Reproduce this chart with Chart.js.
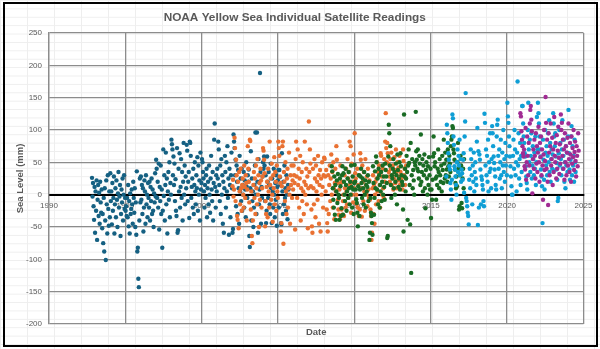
<!DOCTYPE html>
<html><head><meta charset="utf-8">
<script src="https://cdn.jsdelivr.net/npm/chart.js@4/dist/chart.umd.min.js"></script>
<style>
html,body{margin:0;padding:0;}
body{width:600px;height:349px;overflow:hidden;background:#fff;}
#wrap{position:relative;width:600px;height:349px;
 background-image:linear-gradient(to right,#eeeeee 1px,transparent 1px),linear-gradient(to bottom,#eeeeee 1px,transparent 1px);
 background-size:27px 8.4px;}
#frame{position:absolute;left:3px;top:2px;width:595px;height:345px;box-sizing:border-box;border:2.5px solid #000;pointer-events:none;}
canvas{position:absolute;left:0;top:0;}
</style></head><body>
<div id="wrap"><canvas id="c" width="600" height="349"></canvas><div id="frame"></div></div>
<script>
// Tick values
const yearTicks = [1990,1995,2000,2005,2010,2015,2020,2025];
const levelTicks = [-200,-150,-100,-50,0,50,100,150,200,250];
const seriesNames = ['TOPEX/Poseidon','Jason-1','Jason-2','Jason-3','Sentinel-6 MF'];

// Each row: [fromYear, toYear, readings (mm) spread over that interval]
const topex = [
 [1992.8,1993.5,[26,-3,18,-18,-39,12,-59,5,-25,22,-70,-8,15,-33,3,-45,20,-12,-28,8,-52]],
 [1993.5,1994.0,[-30,-75,-5,-88,10,-40,-101,22,-15,-60,30,-22,-48,5,-35]],
 [1994.0,1995.0,[33,-10,5,-46,18,-25,-5,28,-60,-15,10,-35,22,-8,-50,2,35,-20,-3,15,-64,-30,8,-12,25,-40,0,30,-22,-5]],
 [1995.0,1996.0,[-25,-18,-33,-5,-35,15,-49,-10,-60,2,-30,-22,8,-15,-45,20,-5,-28,10,-50,-12,-62,36,-88,-82,-130,-143,-40,25,-12]],
 [1996.0,1997.0,[28,-8,15,-30,10,-57,-20,22,5,-45,30,-15,0,-35,18,-5,-20,20,-40,12,-10,25,-30,8,-25,-50,2,-12,33,-3]],
 [1997.0,1998.0,[54,40,-5,20,-20,48,-54,12,-10,45,-30,8,-82,-25,70,-2,30,-40,15,65,-15,25,-60,5,35,-8,50,-35,18,0]],
 [1998.0,1999.0,[85,78,70,30,59,15,48,-10,24,-25,-33,72,-59,-55,40,5,64,-20,12,55,-5,35,-40,20,80,0,45,-15,28,10]],
 [1999.0,2000.0,[77,68,-10,20,35,-36,82,80,60,-5,12,25,-20,40,-30,15,50,5,-15,30,10,58,-25,45,0,22,-40,65,8,18]],
 [2000.0,2001.0,[55,50,35,25,5,-20,15,-5,30,40,-35,10,20,-15,45,0,-28,25,60,8,-10,35,-40,18,85,110,12,-20,30,5]],
 [2001.0,2002.0,[40,25,82,70,15,-10,45,-30,55,0,30,-45,20,-59,10,60,35,-20,50,5,75,-5,25,-62,40,15,-35,30,65,10]],
 [2002.0,2003.0,[-59,-53,93,82,72,30,54,-18,45,20,-30,38,10,-45,60,5,25,-10,40,-25,15,0,35,-20,22,8,-35,50,12,-5]],
 [2003.0,2004.0,[30,20,39,-64,-81,10,67,-40,25,-10,5,-50,-20,15,45,96,0,-30,96,20,-59,55,-15,8,188,35,-45,12,-5,28]],
 [2004.0,2005.0,[50,40,59,45,-10,30,-44,-25,59,20,-5,35,15,-15,-30,48,10,-44,25,5,-20,40,0,-35,18,-8,30,-48,12,22]],
 [2005.0,2005.7,[38,-20,38,27,15,-44,-46,64,5,-30,20,-15,45,-5,10,-25,30,0,-38,15,8]]
];
const jason1 = [
 [2002.0,2003.0,[13,23,-3,8,88,72,-10,54,30,-33,-39,20,-52,35,5,-15,40,10,-25,15,25,0,-20,45,12,-5,30,18,-40,8]],
 [2003.0,2004.0,[75,40,20,-12,85,83,-23,5,-64,-75,-40,15,35,-5,25,-30,45,10,-15,55,0,30,-50,18,-8,40,22,-20,10,28]],
 [2004.0,2005.0,[72,68,54,33,-49,-10,-30,12,20,-35,40,5,-20,82,15,25,-8,48,0,-42,30,10,58,-15,35,20,-25,45,5,-5]],
 [2005.0,2006.0,[82,72,60,28,18,-57,-44,13,75,82,-76,35,20,-10,50,5,-30,25,40,-20,10,65,0,-45,30,15,45,-5,22,8]],
 [2006.0,2007.0,[45,30,18,-54,55,82,28,-5,70,15,40,-20,25,60,-40,10,35,-10,50,5,-30,20,82,0,15,40,-15,28,-52,10]],
 [2007.0,2008.0,[113,35,70,48,13,-23,-49,-59,40,10,-15,55,25,-35,45,5,20,-8,60,30,-45,15,38,-57,25,0,50,12,-20,30]],
 [2008.0,2009.0,[57,55,28,5,38,-23,-44,-57,30,-30,15,45,-10,25,62,0,35,-20,50,10,-38,18,40,5,75,54,18,-8,-23,-31]],
 [2009.0,2010.0,[8,-38,45,18,-23,20,-31,-10,0,-33,30,10,-20,40,5,-15,55,25,-5,35,82,15,75,-28,48,0,20,-12,62,10]],
 [2010.0,2011.0,[95,33,25,0,-15,40,-20,15,-33,30,-23,64,54,10,-34,45,20,-10,35,5,-25,55,15,0,28,-18,40,8,-5,22]],
 [2011.0,2012.0,[-8,-23,-33,-70,-59,10,30,-30,15,-45,0,20,-15,25,50,5,35,-10,45,15,-20,64,60,28,0,40,10,-5,55,20]],
 [2012.0,2013.0,[82,126,72,50,80,64,48,35,28,20,55,40,65,15,30,45,8,25,58,38,18,70,35,10,50,22,42,28,60,15]],
 [2013.0,2013.4,[35,23,18,28,8,70,52,30,40,15,25,45]]
];
const jason2 = [
 [2008.5,2009.0,[44,36,10,-8,-20,28,-31,15,-39,5,22,-13,32,0,-5]],
 [2009.0,2010.0,[-39,25,13,-33,-21,30,44,-31,33,20,0,-10,40,15,-25,5,25,-5,35,10,-15,20,0,45,12,-20,28,8,-30,18]],
 [2010.0,2011.0,[46,20,8,-7,-13,-28,-49,13,30,-33,8,28,40,18,-5,25,10,-15,35,0,22,-20,15,5,12,30,-10,20,-70]],
 [2011.0,2012.0,[-59,-5,-28,-33,-44,-62,44,18,-31,-5,36,10,59,50,8,25,-15,40,30,-20,15,5,35,-10,20,45,0,28,12,-8]],
 [2012.0,2013.0,[48,38,28,18,-67,-64,59,108,95,45,75,15,-5,30,25,40,55,10,35,0,20,48,30,-15,62,38,12,25,50,8]],
 [2013.0,2014.0,[64,44,30,20,15,-23,-57,124,28,40,5,25,60,35,-39,45,70,49,15,-46,80,-121,30,55,10,38,22,0,50,45]],
 [2014.0,2015.0,[128,67,54,40,70,36,25,60,48,15,93,20,35,55,5,45,30,62,10,-21,38,50,25,0,44,15,58,30,8,40]],
 [2015.0,2016.0,[-36,8,-8,23,59,90,64,44,50,25,-8,28,15,40,70,35,10,55,30,20,45,5,60,38,18,85,48,25,65,30]],
 [2016.0,2017.0,[54,39,20,70,44,28,60,48,35,75,85,90,106,103,70,64,54,39,18,10,28,13,50,80,40,-23,-18,30,60,45]],
 [2017.0,2017.2,[-13,-21,25,40,10,55]]
];
const jason3 = [
 [2016.0,2017.0,[28,108,95,80,64,54,44,39,18,8,-8,23,124,118,90,77,44,39,28,15,0,50,70,35,60,45,85,30,55,20]],
 [2017.0,2018.0,[39,33,23,54,64,3,90,113,157,-5,-10,-18,-28,-33,-46,23,40,10,70,55,30,-15,45,20,65,5,35,50,25,15]],
 [2018.0,2019.0,[82,103,-47,67,-20,62,54,39,-15,28,23,15,8,-10,-18,125,111,45,70,30,60,20,85,5,50,35,95,40,10,55]],
 [2019.0,2020.0,[106,95,75,59,49,39,28,15,8,90,108,116,60,40,70,25,50,85,30,10,65,45,100,35,55,20,80,45,60,30]],
 [2020.0,2021.0,[142,121,111,90,75,59,44,28,13,0,0,60,85,40,100,70,30,50,5,65,175,45,95,25,55,80,15,60,35,137]],
 [2021.0,2022.0,[137,110,90,80,64,59,44,28,18,8,100,142,70,50,85,35,60,95,25,45,75,55,30,65,40,90,15,50,120,70]],
 [2022.0,2023.0,[142,126,110,90,70,59,39,28,13,-44,85,54,23,8,100,65,45,75,30,60,95,50,115,35,80,20,55,70,40,62]],
 [2023.0,2024.0,[126,110,90,75,95,59,39,49,23,-10,-5,64,100,45,80,55,30,70,115,40,60,85,20,50,10,75,45,65,35,90]],
 [2024.0,2024.5,[131,64,39,23,54,90,106,30,75,45,60,20,85,50,35]]
];
const sentinel6 = [
 [2020.85,2021.5,[126,121,98,85,75,64,59,70,44,39,103,23,50,90,60,30,80,45,110]],
 [2021.5,2022.5,[131,137,116,98,2,55,70,40,85,60,25,95,48,75,35,65,105,50,20,80,58,90,30,70,45,-8,62,100,38,52]],
 [2022.5,2023.5,[151,111,40,85,20,-16,95,65,30,75,110,45,55,88,15,70,35,120,60,50,80,25,92,40,68,105,57,32,78,48]],
 [2023.5,2024.7,[124,100,111,60,85,40,70,23,95,50,75,30,65,88,45,110,55,35,80,62,20,90,48,72,58,100,38,66,82,52,28,75,60,44,95,68]]
];
const seriesColors = ['#156082','#E97132','#196B24','#0F9ED5','#A02B93'];

function toPoints(rows){
  const pts = [];
  rows.forEach(([a,b,vals]) => {
    const step = (b - a) / vals.length;
    vals.forEach((v,j) => pts.push({x: a + (j + 0.5) * step, y: v}));
  });
  return pts;
}
const allRows = [topex, jason1, jason2, jason3, sentinel6];

const FONT = "'Liberation Sans', Arial, sans-serif";
const TXT = '#595959', GRID = '#8c8c8c';

new Chart(document.getElementById('c'), {
  type: 'scatter',
  data: {
    datasets: allRows.map((rows,i) => ({
      label: seriesNames[i],
      data: toPoints(rows),
      xAxisID: 'x', yAxisID: 'y',
      backgroundColor: seriesColors[i],
      borderColor: seriesColors[i],
      borderWidth: 0,
      pointRadius: 2.2,
      order: 5 - i
    }))
  },
  options: {
    responsive: false, animation: false, devicePixelRatio: 1,
    layout: {padding: {left: 6, right: 16.5, top: 0, bottom: 4}},
    plugins: {
      legend: {display: false},
      tooltip: {enabled: false},
      title: {display: true, text: 'NOAA Yellow Sea Individual Satellite Readings', color: TXT,
        font: {family: FONT, size: 11.8, weight: 'bold', lineHeight: 1.2}, padding: {top: 10.9, bottom: 7.9}}
    },
    scales: {
      x: {
        type: 'linear', position: {y: 0}, min: yearTicks[0], max: yearTicks[yearTicks.length-1],
        afterBuildTicks: s => { s.ticks = yearTicks.map(v => ({value: v})); },
        afterFit: s => { s.height = 0; },
        grid: {color: GRID, lineWidth: 1.3, drawTicks: false},
        border: {display: true, color: '#000', width: 2},
        ticks: {color: TXT, font: {family: FONT, size: 8}, padding: 6, maxRotation: 0, autoSkip: false, callback: v => String(v)}
      },
      xt: {
        type: 'linear', axis: 'x', position: 'bottom', min: 0, max: 1,
        afterFit: s => { s.height = 21; },
        grid: {display: false}, border: {display: false}, ticks: {display: false},
        title: {display: true, text: 'Date', color: TXT, font: {family: FONT, size: 9.5, weight: 'bold', lineHeight: 1.2}, padding: {top: 0, bottom: 7.3}}
      },
      y: {
        type: 'linear', min: levelTicks[0], max: levelTicks[levelTicks.length-1],
        afterBuildTicks: s => { s.ticks = levelTicks.map(v => ({value: v})); },
        afterFit: s => { s.width = 43; },
        grid: {color: c => (c.tick && c.tick.value === 0) ? 'rgba(0,0,0,0)' : GRID, lineWidth: 1.3, drawTicks: false},
        border: {display: true, color: GRID, width: 1.3},
        ticks: {color: TXT, font: {family: FONT, size: 8}, padding: 7, callback: v => String(v)},
        title: {display: true, text: 'Sea Level (mm)', color: TXT, font: {family: FONT, size: 9.5, weight: 'bold', lineHeight: 1.2}, padding: {top: 8.3, bottom: 0}}
      }
    }
  }
});
</script></body></html>
